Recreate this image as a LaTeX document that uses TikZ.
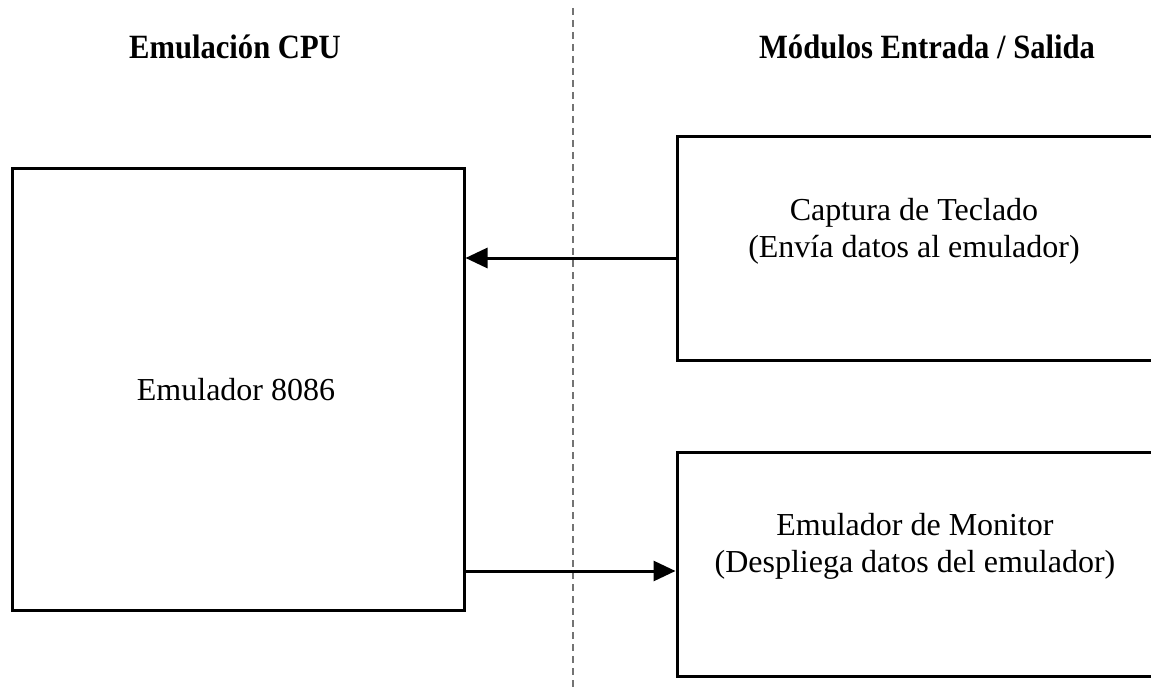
\documentclass[tikz,border=0pt]{standalone}
\usepackage{fontspec}
\setmainfont{Liberation Serif}
\usetikzlibrary{arrows.meta}
\tikzset{
  blk/.style={draw=black, line width=3pt, minimum width=#1, inner sep=0pt},
  lbl/.style={font=\fontsize{32}{37}\selectfont, align=center, inner sep=0pt},
  ttl/.style={font=\fontsize{34}{40}\selectfont\bfseries, inner sep=0pt, xscale=0.9},
  conn/.style={line width=3pt, -{Triangle[length=22pt,width=20pt]}},
  divider/.style={draw=black!55, line width=2pt, dash pattern=on 7pt off 5pt}
}
\begin{document}
\begin{tikzpicture}[x=1pt,y=-1pt]
\useasboundingbox (0,0) rectangle (1151,690);
\clip (0,0) rectangle (1151,690);
% divider
\coordinate (dtop) at (573,8);
\coordinate (dbot) at (573,690);
\draw[divider] (dtop) -- (dbot);
% titles
\node[ttl] (t1) at (235,47) {Emulación CPU};
\node[ttl] (t2) at (927,47) {Módulos Entrada / Salida};
% boxes
\node[blk=452pt, minimum height=442pt] (cpu) at (238,389) {};
\node[blk=490pt, minimum height=223pt] (kbd) at (922,248.5) {};
\node[blk=490pt, minimum height=224pt] (mon) at (922,564) {};
% labels
\node[lbl] (cpul) at (236,390) {Emulador 8086};
\node[lbl] (kbdl) at (914,231) {Captura de Teclado\\(Envía datos al emulador)};
\node[lbl] (monl) at (915,546) {Emulador de Monitor\\(Despliega datos del emulador)};
% connectors
\draw[conn] (kbd.west |- 0,258) -- (cpu.east |- 0,258);
\draw[conn] (cpu.east |- 0,571) -- (mon.west |- 0,571);
\end{tikzpicture}
\end{document}
